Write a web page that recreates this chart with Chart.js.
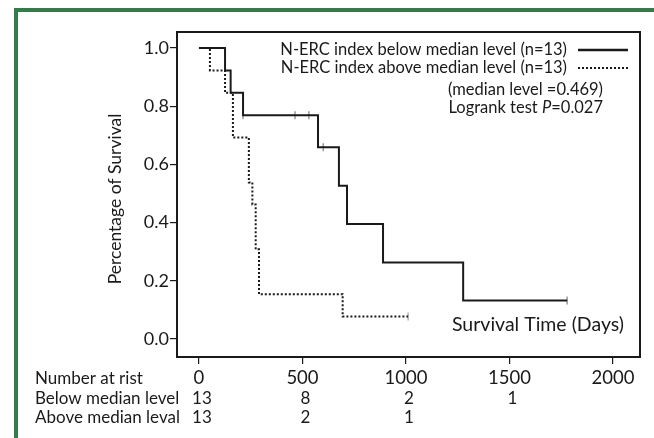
<!DOCTYPE html>
<html>
<head>
<meta charset="utf-8">
<script src="https://cdn.jsdelivr.net/npm/chart.js"></script>
<style>
  body { margin: 0; background: #fff; }
  #wrap { position: relative; width: 654px; height: 438px; }
</style>
</head>
<body>
<div id="wrap"><canvas id="kmChart" width="654" height="438"></canvas></div>
<script>
// Kaplan-Meier curves
const belowTimes = [0, 126, 153, 213, 575, 676, 715, 889, 1276, 1778]
const belowSurv = [1, 0.923, 0.846, 0.769, 0.659, 0.527, 0.395, 0.263, 0.132, 0.132]
const belowCensorTimes = [213, 464, 531, 600, 1778]
const belowCensorSurv = [0.769, 0.769, 0.769, 0.659, 0.132]

const aboveTimes = [0, 53, 126, 164, 241, 258, 274, 290, 694, 1010]
const aboveSurv = [1, 0.923, 0.846, 0.692, 0.538, 0.462, 0.308, 0.154, 0.077, 0.077]
const aboveCensorTimes = [1010]
const aboveCensorSurv = [0.077]

const xTicks = [0, 500, 1000, 1500, 2000]
const yTicks = [0, 0.2, 0.4, 0.6, 0.8, 1.0]

// number at risk table
const riskTimes = [0, 500, 1000, 1500]
const riskBelow = [13, 8, 2, 1]
const riskAbove = [13, 2, 1]

const legendLabels = [
    "N-ERC index below median level (n=13)",
    "N-ERC index above median level (n=13)",
]

const FONT = "Lato, 'Open Sans', sans-serif"
const INK = "#1a1a1a"

function pts(xs, ys) {
    return xs.map((x, i) => ({ x: x, y: ys[i] }))
}

const extras = {
    id: "extras",
    afterDraw(chart) {
        const ctx = chart.ctx
        const a = chart.chartArea
        const xs = chart.scales.x
        ctx.save()

        // green page border
        ctx.fillStyle = "#347a4a"
        ctx.fillRect(14, 8, 4, 430)
        ctx.fillRect(14, 8, 640, 4)

        // plot frame
        ctx.strokeStyle = INK
        ctx.lineWidth = 2
        ctx.strokeRect(a.left, a.top, a.right - a.left, a.bottom - a.top)

        // legend
        ctx.fillStyle = INK
        ctx.font = "16.5px " + FONT
        ctx.textAlign = "right"
        ctx.textBaseline = "middle"
        ctx.fillText(legendLabels[0], 567, 50)
        ctx.fillText(legendLabels[1], 567, 68)
        ctx.lineWidth = 2.5
        ctx.beginPath()
        ctx.moveTo(578, 50); ctx.lineTo(628, 50)
        ctx.stroke()
        ctx.setLineDash([2, 2])
        ctx.lineWidth = 2
        ctx.beginPath()
        ctx.moveTo(578, 68); ctx.lineTo(628, 68)
        ctx.stroke()
        ctx.setLineDash([])
        ctx.fillText("(median level =0.469)", 603, 90)
        // Logrank line with italic P
        const tail = "=0.027"
        const wTail = ctx.measureText(tail).width
        ctx.fillText(tail, 603, 108)
        ctx.font = "italic 16.5px " + FONT
        const wP = ctx.measureText("P").width
        ctx.fillText("P", 603 - wTail, 108)
        ctx.font = "16.5px " + FONT
        ctx.fillText("Logrank test ", 603 - wTail - wP, 108)

        // x axis label inside the plot
        ctx.font = "19.5px " + FONT
        ctx.fillText("Survival Time (Days)", 624, 325)

        // y axis title
        ctx.save()
        ctx.translate(115, 199)
        ctx.rotate(-Math.PI / 2)
        ctx.textAlign = "center"
        ctx.font = "17.5px " + FONT
        ctx.fillText("Percentage of Survival", 0, 0)
        ctx.restore()

        // number at risk
        ctx.font = "17px " + FONT
        ctx.textAlign = "left"
        ctx.fillText("Number at rist", 35, 379)
        ctx.fillText("Below median level", 35, 399)
        ctx.fillText("Above median leval", 35, 418)
        ctx.textAlign = "center"
        riskBelow.forEach((n, i) => ctx.fillText(String(n), xs.getPixelForValue(riskTimes[i]) + 3, 399))
        riskAbove.forEach((n, i) => ctx.fillText(String(n), xs.getPixelForValue(riskTimes[i]) + 3, 418))
        ctx.restore()
    },
}

let ctx = document.getElementById("kmChart").getContext("2d")
new Chart(ctx, {
    type: "line",
    data: {
        datasets: [
            {
                label: legendLabels[0],
                data: pts(belowTimes, belowSurv),
                stepped: "before",
                borderColor: INK,
                borderWidth: 2,
                pointRadius: 0,
                fill: false,
            },
            {
                label: legendLabels[1],
                data: pts(aboveTimes, aboveSurv),
                stepped: "before",
                borderColor: INK,
                borderWidth: 2,
                borderDash: [2, 2],
                pointRadius: 0,
                fill: false,
            },
            {
                label: "censored below",
                data: pts(belowCensorTimes, belowCensorSurv),
                showLine: false,
                pointStyle: "line",
                rotation: 90,
                pointRadius: 4,
                borderColor: "#666",
                borderWidth: 1,
            },
            {
                label: "censored above",
                data: pts(aboveCensorTimes, aboveCensorSurv),
                showLine: false,
                pointStyle: "line",
                rotation: 90,
                pointRadius: 4,
                borderColor: "#888",
                borderWidth: 1,
            },
        ],
    },
    options: {
        responsive: false,
        animation: false,
        layout: { padding: { left: 0, top: 32, right: 14, bottom: 0 } },
        plugins: { legend: { display: false }, tooltip: { enabled: false } },
        scales: {
            x: {
                type: "linear",
                min: -106,
                max: 2130,
                afterBuildTicks: (s) => { s.ticks = xTicks.map((v) => ({ value: v })) },
                afterFit: (s) => { s.height = 81 },
                grid: { drawOnChartArea: false, tickLength: 7, color: INK, lineWidth: 1.2 },
                border: { display: true, color: INK, width: 2 },
                ticks: {
                    padding: 3,
                    color: INK,
                    font: { family: FONT, size: 18.5 },
                    maxRotation: 0,
                    callback: (v) => String(v),
                },
            },
            y: {
                min: -0.062,
                max: 1.055,
                afterBuildTicks: (s) => { s.ticks = yTicks.map((v) => ({ value: v })) },
                afterFit: (s) => { s.width = 177 },
                grid: { drawOnChartArea: false, tickLength: 7, color: INK, lineWidth: 1.2 },
                border: { display: true, color: INK, width: 2 },
                ticks: {
                    padding: 1,
                    color: INK,
                    font: { family: FONT, size: 18 },
                    callback: (v) => v.toFixed(1),
                },
            },
        },
    },
    plugins: [extras],
});
</script>
</body>
</html>
